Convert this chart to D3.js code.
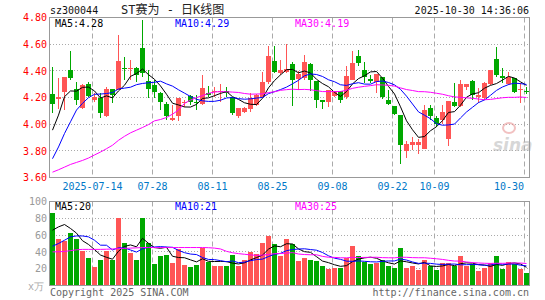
<!DOCTYPE html>
<html>
<head>
<meta charset="utf-8">
<script src="https://cdn.jsdelivr.net/npm/d3@7"></script>
<style>
  body { margin: 0; background: #fff; }
  svg { display: block; }
  text { font-family: 'DejaVu Sans Mono', 'Liberation Mono', monospace; font-size: 10px; }
</style>
</head>
<body>
<div id="chart"></div>
<script>
// trading days shown (80 sessions)
const dates = [
  '2025-07-03', '2025-07-04', '2025-07-07', '2025-07-08', '2025-07-09', '2025-07-10', '2025-07-11',
  '2025-07-14', '2025-07-15', '2025-07-16', '2025-07-17', '2025-07-18', '2025-07-21', '2025-07-22',
  '2025-07-23', '2025-07-24', '2025-07-25', '2025-07-28', '2025-07-29', '2025-07-30', '2025-07-31',
  '2025-08-01', '2025-08-04', '2025-08-05', '2025-08-06', '2025-08-07', '2025-08-08', '2025-08-11',
  '2025-08-12', '2025-08-13', '2025-08-14', '2025-08-15', '2025-08-18', '2025-08-19', '2025-08-20',
  '2025-08-21', '2025-08-22', '2025-08-25', '2025-08-26', '2025-08-27', '2025-08-28', '2025-08-29',
  '2025-09-01', '2025-09-02', '2025-09-03', '2025-09-04', '2025-09-05', '2025-09-08', '2025-09-09',
  '2025-09-10', '2025-09-11', '2025-09-12', '2025-09-15', '2025-09-16', '2025-09-17', '2025-09-18',
  '2025-09-19', '2025-09-22', '2025-09-23', '2025-09-24', '2025-09-25', '2025-09-26', '2025-09-29',
  '2025-09-30', '2025-10-09', '2025-10-10', '2025-10-13', '2025-10-14', '2025-10-15', '2025-10-16',
  '2025-10-17', '2025-10-20', '2025-10-21', '2025-10-22', '2025-10-23', '2025-10-24', '2025-10-27',
  '2025-10-28', '2025-10-29', '2025-10-30',
];

const open = [
  4.224, 4.186, 4.244, 4.408, 4.262, 4.123, 4.302, 4.179, 4.194, 4.060,
  4.262, 4.257, 4.423, 4.413, 4.425, 4.574, 4.324, 4.294, 4.236, 4.151,
  4.030, 4.063, 4.156, 4.211, 4.168, 4.148, 4.236, 4.240, 4.240, 4.250,
  4.206, 4.060, 4.093, 4.111, 4.143, 4.206, 4.319, 4.475, 4.382, 4.395,
  4.450, 4.335, 4.345, 4.450, 4.320, 4.180, 4.170, 4.210, 4.250, 4.206,
  4.332, 4.513, 4.408, 4.335, 4.319, 4.357, 4.181, 4.136, 4.068, 3.799,
  3.842, 3.842, 3.816, 4.118, 4.050, 4.030, 3.892, 4.168, 4.136, 4.277,
  4.327, 4.206, 4.194, 4.302, 4.490, 4.360, 4.302, 4.345, 4.260, 4.250,
];
const high = [
  4.428, 4.345, 4.355, 4.548, 4.319, 4.300, 4.319, 4.231, 4.231, 4.282,
  4.262, 4.672, 4.503, 4.483, 4.428, 4.780, 4.408, 4.332, 4.244, 4.168,
  4.143, 4.199, 4.181, 4.219, 4.219, 4.370, 4.287, 4.282, 4.300, 4.280,
  4.206, 4.125, 4.130, 4.231, 4.225, 4.395, 4.584, 4.584, 4.483, 4.604,
  4.463, 4.400, 4.520, 4.455, 4.320, 4.185, 4.260, 4.250, 4.250, 4.433,
  4.546, 4.553, 4.463, 4.370, 4.380, 4.357, 4.257, 4.136, 4.068, 3.874,
  3.904, 3.892, 4.143, 4.143, 4.060, 4.143, 4.176, 4.307, 4.332, 4.302,
  4.332, 4.269, 4.319, 4.408, 4.579, 4.420, 4.395, 4.345, 4.307, 4.280,
];
const low = [
  4.085, 4.111, 4.106, 4.332, 4.143, 4.113, 4.206, 4.169, 4.048, 4.055,
  4.161, 4.257, 4.332, 4.332, 4.319, 4.357, 4.194, 4.194, 4.106, 4.030,
  4.025, 4.023, 4.131, 4.143, 4.106, 4.143, 4.206, 4.206, 4.170, 4.200,
  4.070, 4.050, 4.080, 4.093, 4.135, 4.206, 4.300, 4.382, 4.370, 4.382,
  4.138, 4.260, 4.330, 4.250, 4.120, 4.110, 4.130, 4.200, 4.160, 4.190,
  4.330, 4.433, 4.307, 4.307, 4.236, 4.186, 4.143, 4.068, 3.703, 3.748,
  3.804, 3.780, 3.816, 4.030, 3.980, 4.005, 3.834, 4.131, 4.131, 4.257,
  4.181, 4.156, 4.181, 4.294, 4.357, 4.307, 4.294, 4.231, 4.161, 4.226,
];
const close = [
  4.151, 4.204, 4.352, 4.350, 4.181, 4.294, 4.214, 4.206, 4.085, 4.262,
  4.219, 4.475, 4.418, 4.418, 4.370, 4.387, 4.264, 4.244, 4.168, 4.060,
  4.050, 4.199, 4.168, 4.164, 4.161, 4.274, 4.219, 4.250, 4.250, 4.230,
  4.081, 4.118, 4.123, 4.194, 4.219, 4.319, 4.508, 4.395, 4.408, 4.413,
  4.330, 4.380, 4.463, 4.330, 4.180, 4.170, 4.260, 4.250, 4.180, 4.362,
  4.458, 4.458, 4.357, 4.325, 4.377, 4.206, 4.151, 4.075, 3.842, 3.854,
  3.867, 3.867, 4.106, 4.060, 4.005, 4.093, 4.176, 4.136, 4.302, 4.302,
  4.219, 4.219, 4.307, 4.408, 4.370, 4.350, 4.357, 4.244, 4.265, 4.240,
];
// volume, 万手
const volume = [
  86.4, 55.0, 52.7, 62.6, 55.0, 41.2, 32.9, 22.2, 30.1, 41.2,
  30.1, 80.5, 50.8, 38.8, 30.1, 80.5, 50.8, 25.4, 34.9, 36.1,
  26.9, 43.2, 24.2, 22.2, 24.2, 45.2, 28.1, 23.0, 23.0, 23.0,
  36.1, 23.0, 30.1, 40.0, 37.0, 50.8, 58.7, 49.2, 34.9, 55.1,
  49.2, 29.3, 32.9, 30.9, 29.3, 23.0, 19.8, 20.6, 21.4, 33.3,
  46.8, 34.9, 28.1, 25.4, 26.9, 30.9, 23.8, 20.6, 44.4, 21.4,
  23.8, 18.2, 30.1, 23.0, 18.2, 26.9, 26.9, 23.0, 34.9, 23.0,
  25.4, 17.4, 21.4, 26.2, 34.9, 19.8, 28.1, 25.4, 19.8, 15.0,
];

// first MA points depend on sessions before the window ->
const ma5Head = [3.955, 4.068, 4.206, 4.249];
const ma10Head = [3.741, 3.829, 3.930, 4.018, 4.106, 4.156, 4.199, 4.224, 4.226];
const ma30Head = [
  3.640, 3.658, 3.678, 3.698, 3.713, 3.728, 3.746, 3.769, 3.791, 3.816,
  3.842, 3.879, 3.909, 3.935, 3.955, 3.975, 3.997, 4.025, 4.035, 4.050,
  4.075, 4.106, 4.156, 4.181, 4.199, 4.214, 4.231, 4.241, 4.244,
];
const vma5Head = [65.8, 69.8, 72.6, 67.9];
const vma10Head = [46.8, 50.0, 53.9, 57.9, 59.0, 59.0, 57.9, 53.9, 48.0];
const vma30Head = [
  40.0, 40.2, 40.5, 41.5, 42.5, 43.0, 43.0, 43.0, 43.0, 43.2,
  43.5, 44.0, 44.2, 44.5, 44.8, 45.2, 45.2, 45.2, 45.2, 45.2,
  45.2, 45.2, 45.2, 45.2, 45.2, 45.2, 45.0, 44.5, 43.5,
];

const tickDates = ['2025-07-14', '2025-07-28', '2025-08-11', '2025-08-25', '2025-09-08', '2025-09-22', '2025-10-09', '2025-10-30'];
const tickLabels = ['2025-07-14', '07-28', '08-11', '08-25', '09-08', '09-22', '10-09', '10-30'];
const priceTicks = [4.8, 4.6, 4.4, 4.2, 4.0, 3.8, 3.6];
const volTicks = [100, 80, 60, 40, 20];
const maLabels = ['MA5:4.28', 'MA10:4.29', 'MA30:4.19'];
const vmaLabels = ['MA5:20', 'MA10:21', 'MA30:25'];

const width = 545;
const height = 300;
const RED = '#ff5555';
const GREEN = '#00a800';
const maColors = ['#000000', '#0000ff', '#ff00ff'];

const svg = d3
  .select('#chart')
  .append('svg')
  .attr('width', width)
  .attr('height', height);

const x = d3.scaleBand().domain(dates).range([50, 529]).paddingInner(1 / 6).paddingOuter(0);
const y = d3.scaleLinear().domain([3.6, 4.8]).range([177.5, 17.5]);
const yv = d3.scaleLinear().domain([0, 100]).range([285.5, 201.5]);
const cx = (d) => x(d) + 2.5;
const crisp = (v) => Math.round(v - 0.5) + 0.5;

function movingAvg(vals, n, head) {
  return vals.map((v, i) => (i < head.length ? head[i] : d3.mean(vals.slice(i - n + 1, i + 1))));
}

const rows = dates.map((d, i) => ({
  date: d,
  o: open[i],
  h: high[i],
  l: low[i],
  c: close[i],
  v: volume[i],
  up: close[i] >= open[i],
}));

// grid: dotted horizontals
svg
  .append('g')
  .selectAll('line')
  .data(priceTicks.slice(1, -1))
  .join('line')
  .attr('x1', 50)
  .attr('x2', 529)
  .attr('y1', (d) => crisp(y(d)))
  .attr('y2', (d) => crisp(y(d)))
  .attr('stroke', '#aaa')
  .attr('stroke-dasharray', '1,2');

svg
  .append('g')
  .selectAll('line')
  .data(volTicks.slice(1))
  .join('line')
  .attr('x1', 50)
  .attr('x2', 529)
  .attr('y1', (d) => crisp(yv(d)))
  .attr('y2', (d) => crisp(yv(d)))
  .attr('stroke', '#aaa')
  .attr('stroke-dasharray', '1,2');

// dashed verticals at date ticks
const vgrid = svg.append('g').attr('stroke', '#aaa').attr('stroke-dasharray', '5,3');
[[17.5, 177.5], [201.5, 285.5]].forEach(([y0, y1]) => {
  vgrid
    .append('g')
    .selectAll('line')
    .data(tickDates)
    .join('line')
    .attr('x1', (d) => x(d) + 0.5)
    .attr('x2', (d) => x(d) + 0.5)
    .attr('y1', y0)
    .attr('y2', y1);
});

// candles
const candles = svg.append('g').attr('shape-rendering', 'crispEdges');
candles
  .selectAll('rect.wick')
  .data(rows)
  .join('rect')
  .attr('class', 'wick')
  .attr('x', (d) => x(d.date) + 2)
  .attr('width', 1)
  .attr('y', (d) => Math.round(y(d.h)))
  .attr('height', (d) => Math.max(1, Math.round(y(d.l)) - Math.round(y(d.h))))
  .attr('fill', (d) => (d.up ? RED : GREEN));

candles
  .selectAll('rect.body')
  .data(rows)
  .join('rect')
  .attr('class', 'body')
  .attr('x', (d) => x(d.date))
  .attr('width', x.bandwidth())
  .attr('y', (d) => Math.round(y(Math.max(d.o, d.c))))
  .attr('height', (d) => Math.max(1, Math.round(y(Math.min(d.o, d.c))) - Math.round(y(Math.max(d.o, d.c)))))
  .attr('fill', (d) => (d.up ? RED : GREEN));

// volume bars
svg
  .append('g')
  .attr('shape-rendering', 'crispEdges')
  .selectAll('rect')
  .data(rows)
  .join('rect')
  .attr('x', (d) => x(d.date))
  .attr('width', x.bandwidth())
  .attr('y', (d) => Math.round(yv(d.v)))
  .attr('height', (d) => 285 - Math.round(yv(d.v)))
  .attr('fill', (d) => (d.up ? RED : GREEN));

// moving averages
const priceMA = [movingAvg(close, 5, ma5Head), movingAvg(close, 10, ma10Head), movingAvg(close, 30, ma30Head)];
const volMA = [movingAvg(volume, 5, vma5Head), movingAvg(volume, 10, vma10Head), movingAvg(volume, 30, vma30Head)];

const priceLine = d3.line().x((d, i) => cx(dates[i])).y((d) => y(d));
const volLine = d3.line().x((d, i) => cx(dates[i])).y((d) => yv(d));

svg
  .append('g')
  .attr('fill', 'none')
  .selectAll('path')
  .data(priceMA)
  .join('path')
  .attr('d', priceLine)
  .attr('stroke', (d, i) => maColors[i])
  .attr('stroke-width', 1);

svg
  .append('g')
  .attr('fill', 'none')
  .selectAll('path')
  .data(volMA)
  .join('path')
  .attr('d', volLine)
  .attr('stroke', (d, i) => maColors[i])
  .attr('stroke-width', 1);

// watermark
const wm = svg.append('g').attr('opacity', 0.55);
wm.append('ellipse')
  .attr('cx', 509)
  .attr('cy', 128)
  .attr('rx', 6)
  .attr('ry', 5)
  .attr('fill', 'none')
  .attr('stroke', '#e89090')
  .attr('stroke-width', 2);
wm.append('text')
  .attr('x', 493)
  .attr('y', 151)
  .style('font-family', 'DejaVu Sans, sans-serif')
  .style('font-size', '17px')
  .style('font-style', 'italic')
  .style('font-weight', 'bold')
  .attr('fill', '#b8b8b8')
  .text('sina');

// frames
svg
  .append('g')
  .attr('fill', 'none')
  .attr('stroke', '#999')
  .selectAll('rect')
  .data([[17.5, 160], [201.5, 84]])
  .join('rect')
  .attr('x', 49.5)
  .attr('y', (d) => d[0])
  .attr('width', 480)
  .attr('height', (d) => d[1]);

// price axis labels
const yAxis = svg
  .append('g')
  .attr('transform', 'translate(47,0)')
  .call(d3.axisLeft(y).tickValues(priceTicks).tickFormat(d3.format('.2f')).tickSize(0).tickPadding(0));
yAxis.select('.domain').remove();
yAxis.selectAll('text').attr('fill', '#ff0000').style('font-size', '10px').style('font-family', null);

const vAxis = svg
  .append('g')
  .attr('transform', 'translate(47,0)')
  .call(d3.axisLeft(yv).tickValues(volTicks).tickSize(0).tickPadding(0));
vAxis.select('.domain').remove();
vAxis.selectAll('text').attr('fill', '#999').style('font-size', '10px').style('font-family', null);

svg.append('text').attr('x', 28).attr('y', 290).attr('fill', '#aaa').text('x万');

// date labels
svg
  .append('g')
  .selectAll('text')
  .data(tickDates)
  .join('text')
  .attr('x', (d, i) => (i === tickDates.length - 1 ? x(d) : x(d) + 0.5))
  .attr('y', 190)
  .attr('text-anchor', (d, i) => (i === tickDates.length - 1 ? 'end' : 'middle'))
  .attr('fill', '#0078c8')
  .text((d, i) => tickLabels[i]);

// MA legends
const legendX = [55, 175, 295];
svg
  .append('g')
  .selectAll('text')
  .data(maLabels)
  .join('text')
  .attr('x', (d, i) => legendX[i])
  .attr('y', 27)
  .attr('fill', (d, i) => maColors[i])
  .text((d) => d);

svg
  .append('g')
  .selectAll('text')
  .data(vmaLabels)
  .join('text')
  .attr('x', (d, i) => legendX[i])
  .attr('y', 210)
  .attr('fill', (d, i) => maColors[i])
  .text((d) => d);

// header
svg.append('text').attr('x', 50).attr('y', 14).attr('fill', '#111').text('sz300044');
svg
  .append('text')
  .attr('x', 121)
  .attr('y', 14)
  .attr('fill', '#222')
  .style('font-family', "'DejaVu Sans Mono', 'Noto Sans CJK SC', monospace")
  .style('font-size', '12px')
  .text('ST赛为 - 日K线图');
svg
  .append('text')
  .attr('x', 529)
  .attr('y', 14)
  .attr('text-anchor', 'end')
  .attr('fill', '#111')
  .text('2025-10-30 14:36:06');

// footer
svg.append('text').attr('x', 50).attr('y', 296).attr('fill', '#666').text('Copyright 2025 SINA.COM');
svg
  .append('text')
  .attr('x', 529)
  .attr('y', 296)
  .attr('text-anchor', 'end')
  .attr('fill', '#666')
  .text('http://finance.sina.com.cn');
</script>
</body>
</html>
